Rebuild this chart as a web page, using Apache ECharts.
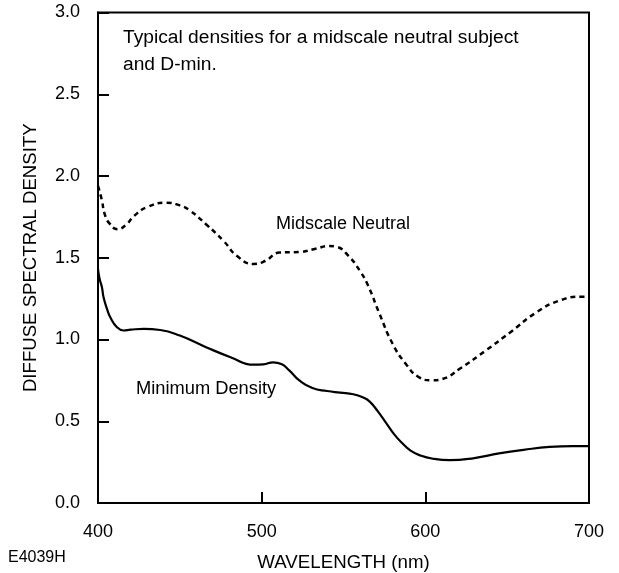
<!DOCTYPE html>
<html>
<head>
<meta charset="utf-8">
<title>Diffuse Spectral Density</title>
<script src="https://cdn.jsdelivr.net/npm/echarts@6/dist/echarts.min.js"></script>
<style>
  html, body { margin: 0; padding: 0; background: #fff; }
  #chart { width: 619px; height: 573px; }
</style>
</head>
<body>
<div id="chart"></div>
<script>
// Midscale neutral subject: wavelength (nm) and density
const neutralWavelength = [400, 402.4, 404, 407, 412, 417, 422, 430, 442, 450, 456, 466, 477, 485, 495, 502, 511, 523, 533, 541, 546, 553, 560, 565, 572, 580, 588, 596, 604, 610, 621, 637, 652, 668, 682, 696, 700];
const neutralDensity   = [1.94, 1.85, 1.77, 1.71, 1.675, 1.70, 1.755, 1.81, 1.837, 1.82, 1.79, 1.705, 1.60, 1.51, 1.462, 1.48, 1.532, 1.535, 1.555, 1.572, 1.566, 1.512, 1.42, 1.33, 1.157, 0.974, 0.852, 0.77, 0.75, 0.757, 0.821, 0.933, 1.045, 1.167, 1.238, 1.262, 1.262];

// Minimum density (D-min): wavelength (nm) and density
const dminWavelength = [400, 401, 402.4, 403.4, 405.5, 407.5, 411.6, 415.6, 420, 428, 438, 450, 466, 481, 495, 501, 507, 512, 517, 523, 531, 540, 548, 556, 562, 566, 571, 576, 581, 586, 591, 597, 605, 615, 630, 645, 660, 676, 690, 700];
const dminDensity     = [1.43, 1.37, 1.32, 1.258, 1.187, 1.136, 1.075, 1.055, 1.06, 1.065, 1.058, 1.024, 0.953, 0.892, 0.846, 0.848, 0.86, 0.85, 0.81, 0.75, 0.703, 0.685, 0.675, 0.665, 0.645, 0.62, 0.56, 0.49, 0.42, 0.365, 0.32, 0.29, 0.27, 0.262, 0.275, 0.303, 0.325, 0.343, 0.348, 0.348];

// Axis ticks
const xTicks = [400, 500, 600, 700];
const yTicks = [0.0, 0.5, 1.0, 1.5, 2.0, 2.5, 3.0];

const FONT = '"Liberation Sans", Arial, Helvetica, sans-serif';

function pairs(xs, ys) {
  return xs.map((x, i) => [x, ys[i]]);
}

const chart = echarts.init(document.getElementById('chart'), null, { renderer: 'canvas' });

chart.setOption({
  animation: false,
  backgroundColor: '#ffffff',
  textStyle: { fontFamily: FONT, color: '#000' },
  grid: {
    left: 98, right: 30, top: 12.5, bottom: 70,
    containLabel: false,
    outerBoundsMode: 'none',
    show: true, borderColor: '#000', borderWidth: 2, backgroundColor: 'transparent'
  },
  xAxis: {
    type: 'value',
    min: xTicks[0],
    max: xTicks[xTicks.length - 1],
    interval: 100,
    name: 'WAVELENGTH (nm)',
    nameLocation: 'middle',
    nameGap: 50,
    nameTextStyle: { fontFamily: FONT, fontSize: 18.7, color: '#000' },
    axisLine: { show: true, lineStyle: { color: '#000', width: 2 } },
    axisTick: { show: true, inside: true, length: 11, lineStyle: { color: '#000', width: 2 } },
    axisLabel: { margin: 20, fontFamily: FONT, fontSize: 18, color: '#000',
      formatter: v => String(v) },
    splitLine: { show: false }
  },
  yAxis: {
    type: 'value',
    min: yTicks[0],
    max: yTicks[yTicks.length - 1],
    interval: 0.5,
    name: 'DIFFUSE SPECTRAL DENSITY',
    nameLocation: 'middle',
    nameGap: 58,
    nameTextStyle: { fontFamily: FONT, fontSize: 18.6, color: '#000' },
    axisLine: { show: true, lineStyle: { color: '#000', width: 2 } },
    axisTick: { show: true, inside: true, length: 11, lineStyle: { color: '#000', width: 2 } },
    axisLabel: { margin: 18, fontFamily: FONT, fontSize: 18, color: '#000',
      formatter: v => v.toFixed(1) },
    splitLine: { show: false }
  },
  series: [
    {
      name: 'Midscale Neutral',
      type: 'line',
      data: pairs(neutralWavelength, neutralDensity),
      smooth: 0.5,
      showSymbol: false,
      lineStyle: { color: '#000', width: 2.5, type: [5, 4] },
      z: 3
    },
    {
      name: 'Minimum Density',
      type: 'line',
      data: pairs(dminWavelength, dminDensity),
      smooth: 0.5,
      showSymbol: false,
      lineStyle: { color: '#000', width: 2.2, type: 'solid' },
      z: 3
    }
  ],
  graphic: [
    {
      type: 'text', left: 123, top: 24.5,
      style: {
        text: 'Typical densities for a midscale neutral subject\nand D-min.',
        font: '19.2px ' + FONT, fill: '#000', lineHeight: 27
      }
    },
    {
      type: 'text', left: 276, top: 215,
      style: { text: 'Midscale Neutral', font: '18px ' + FONT, fill: '#000' }
    },
    {
      type: 'text', left: 136, top: 380,
      style: { text: 'Minimum Density', font: '18.3px ' + FONT, fill: '#000' }
    },
    {
      type: 'text', left: 8, top: 550,
      style: { text: 'E4039H', font: '16px ' + FONT, fill: '#000' }
    }
  ]
});
</script>
</body>
</html>
